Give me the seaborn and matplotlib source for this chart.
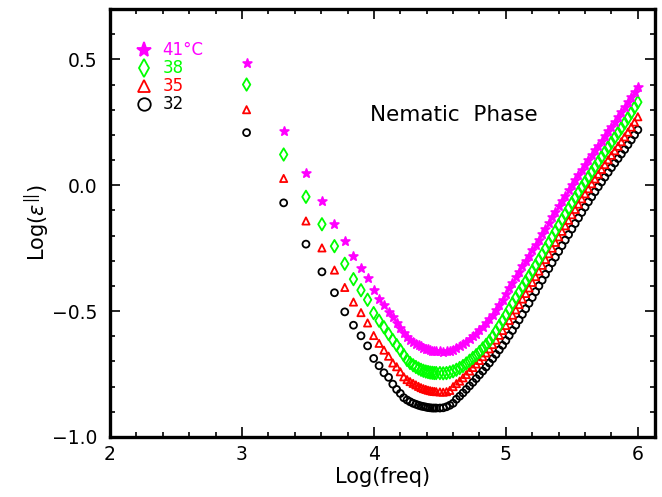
import numpy as np
import pandas as pd
import matplotlib
matplotlib.use("Agg")
import matplotlib.pyplot as plt
import seaborn as sns
from matplotlib.ticker import MultipleLocator, FuncFormatter

# log10 of frequency: sparse low-frequency points, then the dense sweep
log_freq = [3.035, 3.316, 3.485, 3.606, 3.701, 3.779, 3.845, 3.902, 3.952, 3.998,
            4.039, 4.076, 4.111, 4.143, 4.172, 4.200, 4.226, 4.251, 4.274, 4.297,
            4.318, 4.338, 4.357, 4.375, 4.393, 4.410, 4.426, 4.442, 4.457, 4.472,
            4.500, 4.525, 4.550, 4.575, 4.600, 4.625, 4.650, 4.675, 4.700, 4.725,
            4.750, 4.775, 4.800, 4.825, 4.850, 4.875, 4.900, 4.925, 4.950, 4.975,
            5.000, 5.025, 5.050, 5.075, 5.100, 5.125, 5.150, 5.175, 5.200, 5.225,
            5.250, 5.275, 5.300, 5.325, 5.350, 5.375, 5.400, 5.425, 5.450, 5.475,
            5.500, 5.525, 5.550, 5.575, 5.600, 5.625, 5.650, 5.675, 5.700, 5.725,
            5.750, 5.775, 5.800, 5.825, 5.850, 5.875, 5.900, 5.925, 5.950, 5.975,
            6.000]

# log(eps'') at 41 C
eps_41 = [0.487, 0.214, 0.048, -0.062, -0.155, -0.223, -0.282, -0.327, -0.367, -0.415,
          -0.450, -0.476, -0.503, -0.524, -0.548, -0.568, -0.587, -0.602, -0.613, -0.622,
          -0.629, -0.635, -0.640, -0.645, -0.649, -0.652, -0.655, -0.657, -0.658, -0.659,
          -0.660, -0.661, -0.660, -0.657, -0.653, -0.647, -0.640, -0.632, -0.622, -0.611,
          -0.600, -0.589, -0.576, -0.562, -0.548, -0.533, -0.516, -0.497, -0.476, -0.455,
          -0.433, -0.410, -0.387, -0.365, -0.343, -0.322, -0.301, -0.280, -0.259, -0.238,
          -0.216, -0.194, -0.172, -0.150, -0.128, -0.106, -0.084, -0.062, -0.041, -0.020,
          0.001, 0.021, 0.041, 0.061, 0.081, 0.100, 0.119, 0.138, 0.157, 0.176,
          0.195, 0.214, 0.233, 0.252, 0.271, 0.290, 0.310, 0.330, 0.352, 0.372,
          0.392]

eps_38 = [0.400, 0.122, -0.046, -0.155, -0.242, -0.312, -0.373, -0.417, -0.455, -0.508,
          -0.538, -0.564, -0.591, -0.615, -0.635, -0.655, -0.675, -0.694, -0.706, -0.715,
          -0.722, -0.728, -0.733, -0.737, -0.740, -0.742, -0.744, -0.745, -0.746, -0.746,
          -0.746, -0.747, -0.746, -0.743, -0.739, -0.733, -0.726, -0.718, -0.708, -0.697,
          -0.686, -0.675, -0.662, -0.648, -0.634, -0.619, -0.601, -0.580, -0.559, -0.538,
          -0.516, -0.493, -0.470, -0.447, -0.425, -0.404, -0.383, -0.362, -0.341, -0.319,
          -0.297, -0.275, -0.252, -0.229, -0.206, -0.183, -0.160, -0.137, -0.115, -0.093,
          -0.071, -0.050, -0.029, -0.008, 0.012, 0.032, 0.052, 0.072, 0.092, 0.112,
          0.132, 0.151, 0.170, 0.189, 0.208, 0.227, 0.247, 0.267, 0.288, 0.309,
          0.330]

eps_35 = [0.300, 0.027, -0.142, -0.249, -0.337, -0.406, -0.464, -0.506, -0.547, -0.597,
          -0.628, -0.655, -0.679, -0.706, -0.721, -0.741, -0.761, -0.772, -0.780, -0.787,
          -0.793, -0.799, -0.804, -0.808, -0.811, -0.814, -0.816, -0.818, -0.819, -0.820,
          -0.821, -0.822, -0.820, -0.815, -0.800, -0.788, -0.778, -0.765, -0.752, -0.738,
          -0.724, -0.710, -0.696, -0.681, -0.666, -0.650, -0.633, -0.615, -0.596, -0.577,
          -0.557, -0.537, -0.516, -0.495, -0.474, -0.452, -0.430, -0.408, -0.386, -0.363,
          -0.341, -0.318, -0.295, -0.272, -0.250, -0.227, -0.205, -0.183, -0.161, -0.139,
          -0.117, -0.096, -0.075, -0.054, -0.034, -0.014, 0.006, 0.025, 0.044, 0.063,
          0.082, 0.101, 0.119, 0.137, 0.155, 0.173, 0.192, 0.211, 0.231, 0.251,
          0.272]

eps_32 = [0.209, -0.070, -0.234, -0.344, -0.427, -0.503, -0.556, -0.598, -0.638, -0.688,
          -0.717, -0.745, -0.763, -0.790, -0.811, -0.827, -0.844, -0.853, -0.860, -0.866,
          -0.870, -0.874, -0.877, -0.879, -0.881, -0.883, -0.884, -0.885, -0.885, -0.885,
          -0.885, -0.884, -0.880, -0.874, -0.866, -0.850, -0.838, -0.825, -0.811, -0.797,
          -0.783, -0.768, -0.753, -0.738, -0.722, -0.706, -0.689, -0.672, -0.654, -0.636,
          -0.617, -0.597, -0.577, -0.556, -0.535, -0.513, -0.491, -0.469, -0.446, -0.423,
          -0.400, -0.377, -0.354, -0.331, -0.308, -0.286, -0.263, -0.240, -0.218, -0.196,
          -0.174, -0.152, -0.130, -0.108, -0.087, -0.066, -0.046, -0.026, -0.006, 0.013,
          0.032, 0.051, 0.070, 0.088, 0.106, 0.124, 0.142, 0.161, 0.180, 0.200,
          0.220]

labels = ["41\u00b0C", "38", "35", "32"]

sns.set_style("ticks")
plt.rcParams["font.family"] = ["DejaVu Sans"]
plt.rcParams["mathtext.fontset"] = "dejavusans"
plt.rcParams["text.color"] = "black"
plt.rcParams["axes.labelcolor"] = "black"
plt.rcParams["xtick.color"] = "black"
plt.rcParams["ytick.color"] = "black"
plt.rcParams["axes.edgecolor"] = "black"

fig = plt.figure(figsize=(6.62, 4.97), dpi=100)
ax = fig.add_axes([110 / 662, 60 / 497, 545 / 662, 428 / 497])

# drawn coolest first so the hotter series sit on top
series = [
    (eps_32, "o", "black", "none", 25, 3),
    (eps_35, "^", "red", "none", 27, 2),
    (eps_38, "d", "#00ff00", "none", 40, 1),
    (eps_41, "*", "#ff00ff", "#ff00ff", 42, 0),
]
handles = [None] * 4
for y, mk, col, fc, s, idx in series:
    df = pd.DataFrame({"x": log_freq, "y": y})
    sns.scatterplot(data=df, x="x", y="y", marker=mk, s=s, facecolors=fc,
                    edgecolors=col, linewidth=1.3, ax=ax, zorder=3)
    handles[idx] = plt.Line2D([], [], linestyle="", marker=mk,
                              markersize=9 if mk != "*" else 11,
                              markerfacecolor=fc, markeredgecolor=col, markeredgewidth=1.3)

leg = ax.legend(handles, labels, loc="upper left", bbox_to_anchor=(0.035, 0.94),
                frameon=False, fontsize=12, handletextpad=0.6, labelspacing=0.0,
                handlelength=1.0, borderaxespad=0)
for txt, c in zip(leg.get_texts(), ["#ff00ff", "#00ff00", "red", "black"]):
    txt.set_color(c)

ax.text(3.97, 0.28, "Nematic  Phase", fontsize=15.5, va="center", ha="left")

ax.set_xlim(2, 6.13)
ax.set_ylim(-1.0, 0.7)
ax.xaxis.set_major_locator(MultipleLocator(1))
ax.xaxis.set_minor_locator(MultipleLocator(0.2))
ax.yaxis.set_major_locator(MultipleLocator(0.5))
ax.yaxis.set_minor_locator(MultipleLocator(0.1))
ax.yaxis.set_major_formatter(FuncFormatter(lambda v, p: f"{v:.1f}".replace("-", "\u2212")))
ax.tick_params(which="both", direction="in", top=True, right=True, width=1.2,
               labelsize=13.5, colors="black")
ax.tick_params(which="major", length=7)
ax.tick_params(which="minor", length=3.5)
ax.tick_params(axis="y", pad=9)
ax.tick_params(axis="x", pad=6)
for sp in ax.spines.values():
    sp.set_linewidth(2.4)
    sp.set_color("black")

ax.set_xlabel("Log(freq)", fontsize=15, labelpad=2)
ax.set_ylabel(r"Log($\varepsilon^{\rm ||}$)", fontsize=15, labelpad=0)

fig.savefig("out.png", dpi=100)
